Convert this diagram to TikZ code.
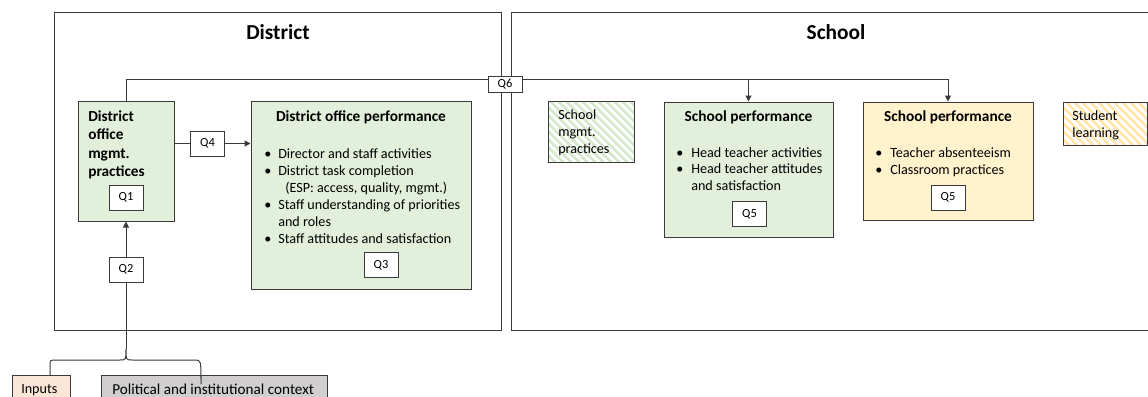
\documentclass[tikz,border=0pt]{standalone}
\usepackage{fontspec}
\setmainfont{Carlito}
\usetikzlibrary{arrows.meta,fit}
\definecolor{boxgreen}{HTML}{E2EFDA}
\definecolor{boxyellow}{HTML}{FFF2CC}
\definecolor{boxpeach}{HTML}{FBE5D6}
\definecolor{boxgray}{HTML}{D0CECE}
\definecolor{hatchgreen}{HTML}{D5E8CC}
\definecolor{hatchyellow}{HTML}{FFE5AE}
\definecolor{linecol}{HTML}{3A3A3A}
\newcommand{\mylines}[1]{\begin{tabular}[t]{@{}l@{}}#1\end{tabular}}
\newcommand{\bul}[1]{\makebox[#1][l]{•}}
\begin{document}
\begin{tikzpicture}[x=0.75pt,y=-0.75pt,
  frame/.style={draw=linecol, line width=0.75pt, inner sep=0pt},
  qbox/.style={draw=linecol, fill=white, line width=0.75pt, inner sep=0pt,
    minimum width=25.5pt, minimum height=18.75pt, font=\fontsize{9.3}{11}\selectfont},
  conn/.style={draw=linecol, line width=0.75pt},
  arr/.style={conn, -{Triangle[length=4.5pt,width=4.5pt]}},
  txt/.style={inner sep=0pt, anchor=base west},
  body/.style={font=\fontsize{10.6}{12.75}\selectfont},
  ttl/.style={inner sep=0pt, anchor=base, font=\bfseries\fontsize{11.5}{13.9}\selectfont},
]
\useasboundingbox (0,0) rectangle (1148,396);

% big frames
\node[frame, fit={(54,12)(501,330)}] (district) {};
\node[frame, fit={(511,12)(1160,330)}] (school) {};
\node[inner sep=0pt, anchor=base, font=\bfseries\fontsize{16}{19}\selectfont] (dtitle) at (278,39) {District};
\node[inner sep=0pt, anchor=base, font=\bfseries\fontsize{16}{19}\selectfont] (stitle) at (836,39) {School};

% district boxes
\node[frame, fill=boxgreen, fit={(78,101)(174,221)}] (mgmt) {};
\node[txt, font=\bfseries\fontsize{11.5}{13.9}\selectfont] (mgmttxt) at (88,121)
  {\mylines{District\\office\\mgmt.\\practices}};
\node[frame, fill=boxgreen, fit={(251,101)(471,289)}] (dop) {};
\node[ttl] (doptitle) at (361,121) {District office performance};
\node[txt, body] (doptxt) at (264,158)
  {\mylines{\bul{10.5pt}Director and staff activities\\
  \bul{10.5pt}District task completion\\
  \hspace{15.75pt}(ESP: access, quality, mgmt.)\\
  \bul{10.5pt}Staff understanding of priorities\\
  \hspace{10.5pt}and roles\\
  \bul{10.5pt}Staff attitudes and satisfaction}};

% school boxes
\begin{scope}
  \clip (548,101) rectangle (634,162);
  \fill[white] (548,101) rectangle (634,162);
  \foreach \i in {0,8,...,168} \draw[hatchgreen, line width=2pt] (\i+470,101) -- ++(75,75);
\end{scope}
\node[frame, fit={(548,101)(634,162)}] (smp) {};
\node[txt, font=\fontsize{10.6}{13.1}\selectfont] (smptxt) at (558,119)
  {\mylines{School\\mgmt.\\practices}};

\node[frame, fill=boxgreen, fit={(664,102)(833,237)}] (sp1) {};
\node[ttl] (sp1title) at (748.5,121) {School performance};
\node[txt, font=\fontsize{10.6}{12.5}\selectfont] (sp1txt) at (676,157)
  {\mylines{\bul{11.25pt}Head teacher activities\\
  \bul{11.25pt}Head teacher attitudes\\
  \hspace{11.25pt}and satisfaction}};

\node[frame, fill=boxyellow, fit={(863,102)(1033,220)}] (sp2) {};
\node[ttl] (sp2title) at (948,121) {School performance};
\node[txt, font=\fontsize{10.6}{12.75}\selectfont] (sp2txt) at (875,157)
  {\mylines{\bul{11.25pt}Teacher absenteeism\\
  \bul{11.25pt}Classroom practices}};

\begin{scope}
  \clip (1063,102) rectangle (1147,145);
  \fill[white] (1063,102) rectangle (1147,145);
  \foreach \i in {0,8,...,136} \draw[hatchyellow, line width=2pt] (\i+1010,102) -- ++(60,60);
\end{scope}
\node[frame, fit={(1063,102)(1147,145)}] (sl) {};
\node[txt, font=\fontsize{10.6}{12.75}\selectfont] (sltxt) at (1072,120)
  {\mylines{Student\\learning}};

% bottom boxes
\node[frame, fill=boxpeach, fit={(12,375)(70,410)}] (inputs) {};
\node[txt, body] (inputstxt) at (21,393) {Inputs};
\node[frame, fill=boxgray, fit={(101,375)(327,410)}] (polit) {};
\node[txt, font=\fontsize{11.4}{13.7}\selectfont] (polittxt) at (112,394) {Political and institutional context};

% Q boxes
\node[qbox] (q1) at (126,197.5) {Q1};
\node[qbox] (q2) at (126,269.5) {Q2};
\node[qbox] (q3) at (381,265) {Q3};
\node[qbox] (q4) at (207.5,143.5) {Q4};
\node[qbox] (q5a) at (749.5,214) {Q5};
\node[qbox] (q5b) at (948,197.5) {Q5};

% brace
\coordinate (bl) at (50,375);
\coordinate (br) at (201,375);
\coordinate (btip) at (126,349);
\draw[conn] (bl) -- ++(0,-9) .. controls ++(0,-6) .. ++(6,-6) -- (120,360)
  .. controls (126,360) .. (btip) .. controls (126,360) .. (132,360) -- (195,360)
  .. controls (201,360) .. ([yshift=-9*0.75pt]br) -- (br);

% connectors
\draw[conn] (btip) -- (q2);
\draw[arr] (q2) -- (mgmt.south);
\draw[conn] (mgmt.east |- q4) -- (q4.west);
\draw[arr] (q4.east) -- (dop.west |- q4);

% Q6 (drawn after the frames so it covers them)
\node[qbox, minimum height=12pt] (q6) at (505,84) {Q6};
\coordinate (q6l) at ([yshift=3.3pt]q6.west);
\coordinate (q6r) at ([yshift=3.3pt]q6.east);
\draw[conn] (mgmt.north) |- (q6l);
\draw[arr] (q6r) -| (sp2.north);
\draw[arr] (sp1.north |- q6r) -- (sp1.north);
\end{tikzpicture}
\end{document}
